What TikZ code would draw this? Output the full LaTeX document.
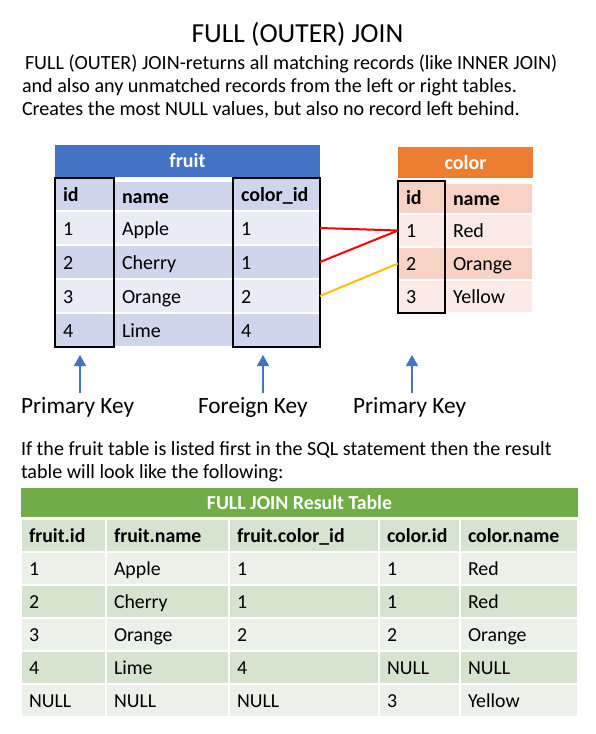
\documentclass[tikz,border=0pt]{standalone}
\usepackage{fontspec}
\setmainfont{Carlito}
\usetikzlibrary{arrows.meta}

\definecolor{fruithead}{HTML}{4472C4}
\definecolor{fruitdark}{HTML}{CFD5EA}
\definecolor{fruitlight}{HTML}{E9EBF5}
\definecolor{colorhead}{HTML}{ED7D31}
\definecolor{colordark}{HTML}{F8D3C5}
\definecolor{colorlight}{HTML}{FBEAE5}
\definecolor{reshead}{HTML}{70AD47}
\definecolor{resdark}{HTML}{D5E3CF}
\definecolor{reslight}{HTML}{EBF1E9}
\definecolor{linkred}{HTML}{FF0000}
\definecolor{linkgold}{HTML}{FFC000}
\definecolor{keyblue}{HTML}{4472C4}

\newcommand{\titlefont}{\fontsize{27.5}{32}\selectfont}
\newcommand{\bodyfont}{\fontsize{20.1}{23}\selectfont}
\newcommand{\keyfont}{\fontsize{23.3}{27}\selectfont}
\newcommand{\cellfont}{\fontsize{20}{23}\selectfont}
\newcommand{\cellbold}{\fontsize{20}{23}\selectfont\bfseries}
\newcommand{\resfont}{\fontsize{19.8}{23}\selectfont}
\newcommand{\resbold}{\fontsize{19.8}{23}\selectfont\bfseries}

% one table cell: name, left, top, width, height, fill, font, text
\newcommand{\tcell}[8]{%
  \node[cell, fill=#6, minimum width=#4pt, minimum height=#5pt] (#1) at (#2,#3) {};
  \node[celltext, font=#7] (#1-t) at ([xshift=8pt,yshift=-7pt]#1.west) {#8};
}

\tikzset{
  cell/.style={rectangle, draw=white, line width=1.5pt, anchor=north west,
    inner sep=0pt, outer sep=0pt},
  celltext/.style={anchor=base west, inner sep=0pt, outer sep=0pt},
  tablehead/.style={rectangle, anchor=north west, inner sep=0pt, outer sep=0pt,
    text=white},
  keyline/.style={black, line width=2pt},
  link/.style={line width=2pt},
  keyarrow/.style={keyblue, line width=1.3pt, -{Triangle[width=12pt,length=11pt]}},
  plain/.style={anchor=base west, inner sep=0pt, outer sep=0pt},
}

\begin{document}
\begin{tikzpicture}[x=1pt,y=-1pt]
\useasboundingbox[fill=white] (0,0) rectangle (596,734);

% heading and explanation
\node[anchor=base, inner sep=0pt, font=\titlefont] (title) at (297.5,42) {FULL (OUTER) JOIN};
\node[plain, font=\bodyfont] (intro1) at (25,69) {FULL (OUTER) JOIN-returns all matching records (like INNER JOIN)};
\node[plain, font=\bodyfont] (intro2) at (22,92) {and also any unmatched records from the left or right tables.};
\node[plain, font=\bodyfont] (intro3) at (22,115) {Creates the most NULL values, but also no record left behind.};

% ---- fruit table ----
\node[tablehead, fill=fruithead, minimum width=265pt, minimum height=32pt,
  font=\cellbold] (fruit) at (55,145) {fruit};
\tcell{f-h-1}{55}{178}{59}{33}{fruitdark}{\cellbold}{id}
\tcell{f-h-2}{114}{181}{119}{30}{fruitdark}{\cellbold}{name}
\tcell{f-h-3}{233}{178}{87}{33}{fruitdark}{\cellbold}{color\_id}
\foreach \r/\y/\fc/\va/\vb/\vc in {1/211/fruitlight/1/Apple/1,
    2/245/fruitdark/2/Cherry/1,
    3/279/fruitlight/3/Orange/2,
    4/313/fruitdark/4/Lime/4}{
  \tcell{f-\r-1}{55}{\y}{59}{34}{\fc}{\cellfont}{\va}
  \tcell{f-\r-2}{114}{\y}{119}{34}{\fc}{\cellfont}{\vb}
  \tcell{f-\r-3}{233}{\y}{87}{34}{\fc}{\cellfont}{\vc}
}
\draw[keyline] (f-h-1.north west) rectangle (f-4-1.south east);
\draw[keyline] (f-h-3.north west) rectangle (f-4-3.south east);

% ---- color table ----
\node[tablehead, fill=colorhead, minimum width=135pt, minimum height=31pt,
  font=\cellbold] (color) at (398,147) {color};
\tcell{c-h-1}{398}{181}{47}{33}{colordark}{\cellbold}{id}
\tcell{c-h-2}{445}{183}{88}{31}{colordark}{\cellbold}{name}
\foreach \r/\y/\fc/\va/\vb in {1/214/colorlight/1/Red,
    2/247/colordark/2/Orange,
    3/280/colorlight/3/Yellow}{
  \tcell{c-\r-1}{398}{\y}{47}{33}{\fc}{\cellfont}{\va}
  \tcell{c-\r-2}{445}{\y}{88}{33}{\fc}{\cellfont}{\vb}
}
\draw[keyline] (c-h-1.north west) rectangle (c-3-1.south east);

% ---- foreign key links ----
\draw[link, linkred] (f-1-3.east) -- (c-1-1.west);
\draw[link, linkred] (f-2-3.east) -- (c-1-1.west);
\draw[link, linkgold] (f-3-3.east) -- (c-2-1.west);

% ---- key markers ----
\coordinate (pk1tail) at (80,393);
\coordinate (pk1tip) at (80,355);
\coordinate (fktail) at (263,393);
\coordinate (fktip) at (263,355);
\coordinate (pk2tail) at (412,393);
\coordinate (pk2tip) at (412,355);
\draw[keyarrow] (pk1tail) -- (pk1tip);
\draw[keyarrow] (fktail) -- (fktip);
\draw[keyarrow] (pk2tail) -- (pk2tip);
\node[plain, font=\keyfont] (pk1) at (21,413) {Primary Key};
\node[plain, font=\keyfont] (fk) at (198,413) {Foreign Key};
\node[plain, font=\keyfont] (pk2) at (353,413) {Primary Key};

\node[plain, font=\bodyfont] (note1) at (21,455) {If the fruit table is listed first in the SQL statement then the result};
\node[plain, font=\bodyfont] (note2) at (21,478) {table will look like the following:};

% ---- result table ----
\node[tablehead, fill=reshead, minimum width=557pt, minimum height=29pt,
  font=\resbold] (result) at (21,488) {FULL JOIN Result Table};
\tcell{r-h-1}{21}{519}{85}{33}{resdark}{\resbold}{fruit.id}
\tcell{r-h-2}{106}{519}{123}{33}{resdark}{\resbold}{fruit.name}
\tcell{r-h-3}{229}{519}{150}{33}{resdark}{\resbold}{fruit.color\_id}
\tcell{r-h-4}{379}{519}{81}{33}{resdark}{\resbold}{color.id}
\tcell{r-h-5}{460}{519}{118}{33}{resdark}{\resbold}{color.name}
\foreach \r/\y/\fc/\va/\vb/\vc/\vd/\ve in {
    1/552/reslight/1/Apple/1/1/Red,
    2/585/resdark/2/Cherry/1/1/Red,
    3/618/reslight/3/Orange/2/2/Orange,
    4/651/resdark/4/Lime/4/NULL/NULL,
    5/684/reslight/NULL/NULL/NULL/3/Yellow}{
  \tcell{r-\r-1}{21}{\y}{85}{33}{\fc}{\resfont}{\va}
  \tcell{r-\r-2}{106}{\y}{123}{33}{\fc}{\resfont}{\vb}
  \tcell{r-\r-3}{229}{\y}{150}{33}{\fc}{\resfont}{\vc}
  \tcell{r-\r-4}{379}{\y}{81}{33}{\fc}{\resfont}{\vd}
  \tcell{r-\r-5}{460}{\y}{118}{33}{\fc}{\resfont}{\ve}
}
\end{tikzpicture}
\end{document}
